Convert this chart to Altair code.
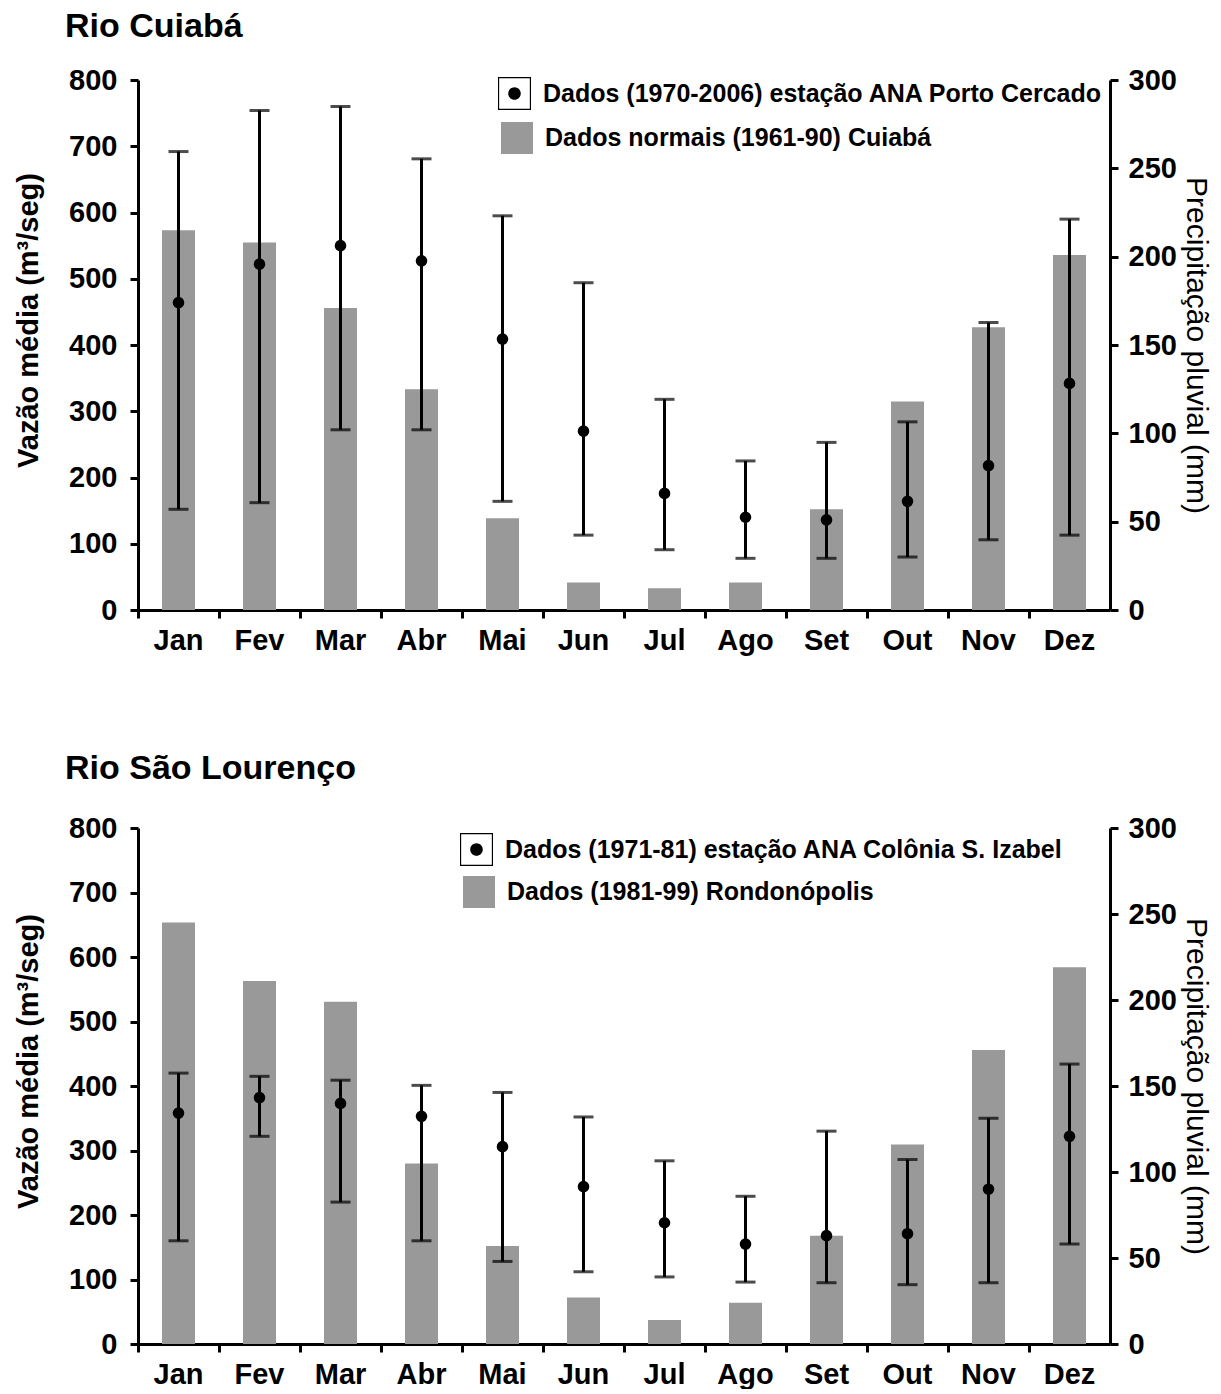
import altair as alt
import pandas as pd

months = ["Jan", "Fev", "Mar", "Abr", "Mai", "Jun", "Jul", "Ago", "Set", "Out", "Nov", "Dez"]

# Rio Cuiabá
cb_vazao = [464, 522, 550, 527, 409, 270, 176, 140, 136, 164, 218, 342]
cb_vmax = [692, 754, 760, 681, 595, 494, 318, 225, 253, 284, 434, 590]
cb_vmin = [152, 162, 272, 272, 164, 113, 91, 78, 78, 80, 106, 113]
cb_precip = [215, 208, 171, 125, 52, 15.6, 12.3, 15.6, 57, 118, 160, 201]
cb_lab_pt = "Dados (1970-2006) estação ANA Porto Cercado"
cb_lab_bar = "Dados normais (1961-90) Cuiabá"

# Rio São Lourenço
sl_vazao = [358, 382, 373, 353, 306, 244, 188, 155, 168, 171, 240, 322]
sl_vmax = [420, 415, 409, 401, 390, 352, 284, 229, 330, 286, 350, 434]
sl_vmin = [160, 322, 220, 160, 128, 112, 104, 96, 95, 92, 95, 155]
sl_precip = [245, 211, 199, 105, 57, 27, 14, 24, 63, 116, 171, 219]
sl_lab_pt = "Dados (1971-81) estação ANA Colônia S. Izabel"
sl_lab_bar = "Dados (1981-99) Rondonópolis"

left_ticks = [0, 100, 200, 300, 400, 500, 600, 700, 800]
right_ticks = [0, 50, 100, 150, 200, 250, 300]

FONT = "Liberation Sans"
BOX_DOT = ("M-1,-1H1V1H-1Z M-0.93,-0.93V0.93H0.93V-0.93Z "
           "M0.38,0A0.38,0.38 0 1 1 -0.38,0A0.38,0.38 0 1 1 0.38,0Z")


def legend(legx, legy, symbol, size):
    return alt.Legend(orient="none", legendX=legx, legendY=legy, title=None,
                      symbolType=symbol, symbolSize=size, symbolStrokeWidth=0,
                      symbolOpacity=1, labelFont=FONT, labelFontSize=25,
                      labelFontWeight="bold", labelColor="black", labelLimit=2000,
                      labelOffset=12, padding=0)


def panel(title, vazao, vmin, vmax, precip, lab_pt, lab_bar, legx, legy_pt, legy_bar,
          height, title_offset):
    df = pd.DataFrame({
        "mes": months, "vazao": vazao, "vmin": vmin, "vmax": vmax,
        "precip": precip, "s_pt": lab_pt, "s_bar": lab_bar,
    })
    x = alt.X("mes:N", sort=months, title=None,
              scale=alt.Scale(paddingInner=0, paddingOuter=0),
              axis=alt.Axis(bandPosition=0, labelAngle=0, labelPadding=8))
    yscale = alt.Scale(domain=[0, 800], nice=False, zero=True)
    yaxis = alt.Axis(orient="left", values=left_ticks, title="Vazão média (m³/seg)",
                     titlePadding=30, labelPadding=13,
                     titleX=-95, titleY=height / 2 - 25)
    base = alt.Chart(df)

    bars = base.mark_bar(size=33).encode(
        x=x,
        y=alt.Y("precip:Q", scale=alt.Scale(domain=[0, 300], nice=False),
                axis=alt.Axis(orient="right", values=right_ticks,
                              title="Precipitação pluvial  (mm)", titlePadding=4,
                              titleFontWeight="normal", titleFontSize=30,
                              labelPadding=10)),
        color=alt.Color("s_bar:N", scale=alt.Scale(range=["#999999"]),
                        legend=legend(legx + 3, legy_bar, "square", 1024)),
    )
    rules = base.mark_rule(color="black", strokeWidth=3).encode(
        x=x, y=alt.Y("vmin:Q", scale=yscale, axis=yaxis), y2="vmax:Q")
    cap_lo = base.mark_tick(color="black", size=20, thickness=3).encode(
        x=x, y=alt.Y("vmin:Q", scale=yscale, axis=yaxis))
    cap_hi = base.mark_tick(color="black", size=20, thickness=3).encode(
        x=x, y=alt.Y("vmax:Q", scale=yscale, axis=yaxis))
    points = base.mark_circle(size=135, opacity=1).encode(
        x=x, y=alt.Y("vazao:Q", scale=yscale, axis=yaxis),
        color=alt.Color("s_pt:N", scale=alt.Scale(range=["black"]),
                        legend=legend(legx, legy_pt, BOX_DOT, 1089)),
    )
    discharge = alt.layer(rules, cap_lo, cap_hi, points)
    return (
        alt.layer(bars, discharge)
        .resolve_scale(y="independent", color="independent")
        .resolve_legend(color="independent")
        .properties(
            width=972, height=height,
            title=alt.TitleParams(title, anchor="start", frame="group", dx=-73,
                                  font=FONT, fontSize=34, fontWeight="bold",
                                  color="black", offset=title_offset),
        )
    )


top = panel("Rio Cuiabá", cb_vazao, cb_vmin, cb_vmax, cb_precip, cb_lab_pt, cb_lab_bar,
            360, -3, 42, 530, 22)
bottom = panel("Rio São Lourenço", sl_vazao, sl_vmin, sl_vmax, sl_precip, sl_lab_pt,
               sl_lab_bar, 322, 5, 48, 516, 28)

chart = (
    alt.vconcat(top, bottom, spacing=97)
    .properties(padding={"left": 5, "top": 2, "right": 0, "bottom": 0})
    .configure_view(stroke=None)
    .configure_axis(domainWidth=3, domainColor="black", tickWidth=3, tickColor="black",
                    tickSize=8, grid=False, labelFont=FONT, labelFontSize=29,
                    labelFontWeight="bold", labelColor="black", titleFont=FONT,
                    titleFontSize=29, titleFontWeight="bold", titleColor="black")
)

chart.save("out.html", embed_options={"renderer": "svg", "actions": False})
